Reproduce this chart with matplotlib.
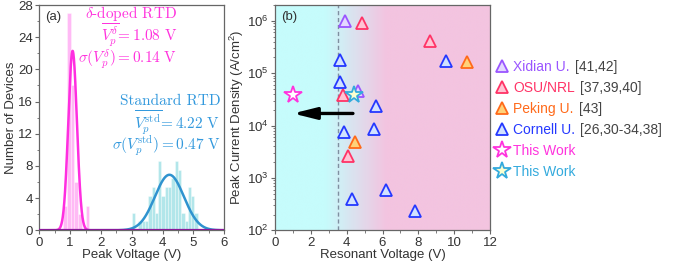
import numpy as np
import matplotlib
matplotlib.use("Agg")
import matplotlib.pyplot as plt
from matplotlib.lines import Line2D
from matplotlib.colors import to_rgb

plt.rcParams['font.family'] = ['Liberation Sans', 'DejaVu Sans']
plt.rcParams['mathtext.fontset'] = 'custom'
plt.rcParams['mathtext.rm'] = 'Liberation Sans'
plt.rcParams['mathtext.it'] = 'Liberation Sans:italic'
plt.rcParams['mathtext.bf'] = 'Liberation Sans:bold'

# ---------------- data: panel (a) ----------------
delta_bin_left = [0.78, 0.90, 1.02, 1.14, 1.26, 1.38, 1.50]
delta_counts = [3, 27, 18, 6, 2, 0, 3]
delta_bin_width = 0.12
delta_mean, delta_sigma, delta_peak = 1.08, 0.14, 22.3

std_bin_left = [3.00, 3.107, 3.214, 3.321, 3.428, 3.535, 3.642, 3.749, 3.856, 3.963,
                4.070, 4.177, 4.284, 4.391, 4.498, 4.605, 4.712, 4.819, 4.926, 5.033]
std_counts = [2.2, 0, 1.1, 1.1, 1.1, 4.3, 5.4, 2.2, 8.6, 4.3,
              5.4, 5.4, 6.5, 8.6, 7.5, 2.2, 1.1, 5.4, 4.3, 2.2]
std_bin_width = 0.107
std_mean, std_sigma, std_peak = 4.22, 0.47, 6.9

# ---------------- data: panel (b) ----------------
xidian_v = [3.89, 4.63]
xidian_j = [1.0e6, 4.6e4]
osu_v = [4.85, 8.67, 3.80, 4.07]
osu_j = [9.0e5, 4.2e5, 3.9e4, 2.6e3]
peking_v = [10.69, 4.48]
peking_j = [1.6e5, 4.8e3]
cornell_v = [3.65, 9.57, 3.65, 5.65, 3.83, 5.50, 6.20, 4.31, 7.80]
cornell_j = [1.8e5, 1.7e5, 6.8e4, 2.4e4, 7.6e3, 8.7e3, 6.0e2, 4.0e2, 2.3e2]
thiswork_delta_v = [1.02]
thiswork_delta_j = [3.8e4]
thiswork_std_v = [4.39]
thiswork_std_j = [3.8e4]
arrow_from_v, arrow_to_v, arrow_j = 4.35, 1.0, 1.7e4
threshold_v = 3.5

legend_names = ['Xidian U.', 'OSU/NRL', 'Peking U.', 'Cornell U.', 'This Work', 'This Work']
legend_refs = ['[41,42]', '[37,39,40]', '[43]', '[26,30-34,38]', '', '']

# ---------------- styles ----------------
MAG = '#ff2ee0'
MAG_TXT = '#ff33dd'
BLUE = '#2f93cf'
BLUE_TXT = '#3399dd'
SPINE = '#666666'
TXT = '#333333'
FS = 9.5

W, H = 673, 268
fig = plt.figure(figsize=(W / 100, H / 100), dpi=100)

def frac(x0, y0, x1, y1):
    return [x0 / W, 1 - y1 / H, (x1 - x0) / W, (y1 - y0) / H]

axa = fig.add_axes(frac(39.3, 5, 224.3, 230.3))
axb = fig.add_axes(frac(275, 5, 490, 230.3))

for ax in (axa, axb):
    for s in ax.spines.values():
        s.set_color(SPINE)
        s.set_linewidth(0.9)
    ax.tick_params(colors=SPINE, labelcolor=TXT, labelsize=FS, width=0.8,
                   length=3, pad=1.5)
    ax.tick_params(which='minor', colors=SPINE, width=0.6, length=1.8)

# ---- panel (a) ----
axa.bar(delta_bin_left, delta_counts, width=delta_bin_width, align='edge',
        color='#ff8cef', alpha=0.6, edgecolor='white', linewidth=0.4, zorder=1)
axa.bar(std_bin_left, std_counts, width=std_bin_width, align='edge',
        color='#7fd6dc', alpha=0.6, edgecolor='white', linewidth=0.4, zorder=1)

xx = np.linspace(0, 6, 1200)
axa.plot(xx, delta_peak * np.exp(-0.5 * ((xx - delta_mean) / delta_sigma) ** 2),
         color=MAG, lw=1.8, zorder=3)
axa.plot(xx, std_peak * np.exp(-0.5 * ((xx - std_mean) / std_sigma) ** 2),
         color=BLUE, lw=1.8, zorder=3)
axa.axhline(0, color='#8a1a9a', lw=1.6, zorder=4)

axa.set_xlim(0, 6)
axa.set_ylim(0, 28)
axa.set_xticks(range(0, 7))
axa.set_xticks(np.arange(0.5, 6, 1.0), minor=True)
axa.set_yticks(range(0, 29, 4))
axa.set_yticks(range(2, 28, 4), minor=True)
axa.set_xlabel('Peak Voltage (V)', fontsize=FS, color=TXT, labelpad=0.5)
axa.set_ylabel('Number of Devices', fontsize=FS, color=TXT, labelpad=1)
axa.text(0.03, 0.975, '(a)', transform=axa.transAxes, ha='left', va='top',
         fontsize=FS, color=TXT)

kw = dict(ha='right', va='center', fontsize=11, math_fontfamily='cm',
          family='cmr10')
axa.text(4.47, 26.9, r'$\delta$-doped RTD', color=MAG_TXT, **kw)
axa.text(4.47, 24.2, r'$\overline{V_p^{\delta}}\!= 1.08\ \mathrm{V}$', color=MAG_TXT, **kw)
axa.text(4.47, 21.3, r'$\sigma(V_p^{\delta}) = 0.14\ \mathrm{V}$', color=MAG_TXT, **kw)
axa.text(5.87, 16.1, r'Standard RTD', color=BLUE_TXT, **kw)
axa.text(5.87, 13.3, r'$\overline{V_p^{\mathrm{std}}}\!= 4.22\ \mathrm{V}$', color=BLUE_TXT, **kw)
axa.text(5.87, 10.45, r'$\sigma(V_p^{\mathrm{std}}) = 0.47\ \mathrm{V}$', color=BLUE_TXT, **kw)

# ---- panel (b) ----
c_cyan = np.array(to_rgb('#c6fcfc'))
c_pink = np.array(to_rgb('#f3c4e0'))
gx = np.linspace(0, 12, 600)
t = np.clip((gx - 2.8) / (6.2 - 2.8), 0, 1)
grad = (1 - t)[:, None] * c_cyan + t[:, None] * c_pink
axb.imshow(grad[None, :, :], extent=[0, 1, 0, 1], transform=axb.transAxes,
           aspect='auto', zorder=0, interpolation='bilinear')
axb.axvline(threshold_v, color='#7f8fa0', lw=1.0, ls=(0, (3, 2)), zorder=1)

tri = dict(marker='^', ls='none', ms=8.5, mew=1.3, zorder=4)
series = [
    (xidian_v, xidian_j, '#9a55ff', '#e4d8ff'),
    (osu_v, osu_j, '#ff3366', '#ffc4d4'),
    (peking_v, peking_j, '#ff6a1a', '#ffd27a'),
    (cornell_v, cornell_j, '#2438ff', '#d2e2ff'),
]
handles = []
for v, j, ec, fc in series:
    axb.plot(v, j, mec=ec, mfc=fc, **tri)
    handles.append(Line2D([], [], mec=ec, mfc=fc, **tri))
star1 = dict(marker='*', ls='none', ms=13, mew=1.3, mec='#ff33dd', mfc='white', zorder=5)
star2 = dict(marker='*', ls='none', ms=13, mew=1.3, mec='#33aadd', mfc='#fbffd0', zorder=5)
axb.plot(thiswork_delta_v, thiswork_delta_j, **star1)
axb.plot(thiswork_std_v, thiswork_std_j, **star2)
handles.append(Line2D([], [], **star1))
handles.append(Line2D([], [], **star2))

axb.annotate('', xy=(arrow_to_v, arrow_j), xytext=(arrow_from_v, arrow_j),
             arrowprops=dict(arrowstyle='-|>,head_length=1.4,head_width=0.35',
                             lw=2.4, color='black', shrinkA=0, shrinkB=0),
             zorder=6)

axb.set_yscale('log')
axb.set_xlim(0, 12)
axb.set_ylim(100, 2.0e6)
axb.set_xticks(range(0, 13, 2))
axb.set_xticks(range(1, 12, 2), minor=True)
axb.set_xlabel('Resonant Voltage (V)', fontsize=FS, color=TXT, labelpad=0.5)
axb.set_ylabel('Peak Current Density (A/cm$^2$)', fontsize=FS, color=TXT, labelpad=1)
axb.text(0.03, 0.975, '(b)', transform=axb.transAxes, ha='left', va='top',
         fontsize=FS, color=TXT, zorder=7)

leg_colors = ['#9a55ff', '#ff3366', '#ff6a1a', '#2438ff', '#ff33dd', '#33aadd']
leg = fig.legend(handles, legend_names, loc='upper left',
                 bbox_to_anchor=(496 / W, 1 - 60 / H), frameon=True,
                 fontsize=10, handlelength=0.8, handletextpad=0.45,
                 labelspacing=0.5, borderpad=0.0, borderaxespad=0.0)
leg.get_frame().set_facecolor('white')
leg.get_frame().set_edgecolor('none')
for txt, c in zip(leg.get_texts(), leg_colors):
    txt.set_color(c)

fig.canvas.draw()
r = fig.canvas.get_renderer()
for txt, ref in zip(leg.get_texts(), legend_refs):
    if not ref:
        continue
    bb = txt.get_window_extent(r)
    fig.text((bb.x1 + 5) / W, (bb.y0 + bb.y1) / 2 / H, ref, ha='left', va='center',
             fontsize=10, color='#444444')

fig.savefig('out.png', dpi=100)
